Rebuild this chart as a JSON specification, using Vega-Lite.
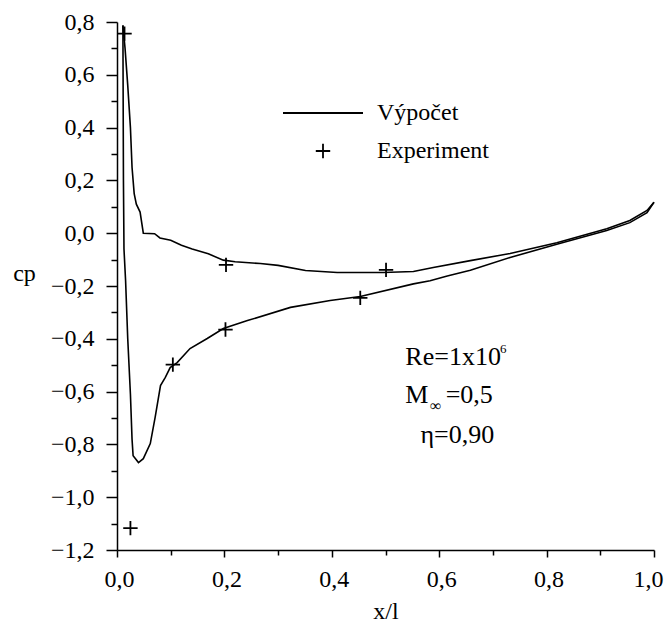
{
  "$schema": "https://vega.github.io/schema/vega-lite/v6.json",
  "width": 537,
  "height": 528,
  "autosize": {"type": "none"},
  "padding": {"left": 117, "top": 22, "right": 13, "bottom": 81},
  "background": "white",
  "config": {
    "view": {"stroke": null},
    "font": "Liberation Serif",
    "axis": {
      "grid": false,
      "domainColor": "black",
      "tickColor": "black",
      "labelColor": "black",
      "titleColor": "black",
      "labelFont": "Liberation Serif",
      "titleFont": "Liberation Serif",
      "labelFontSize": 24,
      "titleFontSize": 24,
      "titleFontWeight": "normal",
      "domainWidth": 1.5,
      "tickWidth": 1.5
    }
  },
  "datasets": {
    "calc": [
      {"surface": "upper", "x": 0.011, "cp": 0.787},
      {"surface": "upper", "x": 0.015, "cp": 0.70},
      {"surface": "upper", "x": 0.020, "cp": 0.56},
      {"surface": "upper", "x": 0.025, "cp": 0.40},
      {"surface": "upper", "x": 0.028, "cp": 0.25},
      {"surface": "upper", "x": 0.032, "cp": 0.15},
      {"surface": "upper", "x": 0.036, "cp": 0.11},
      {"surface": "upper", "x": 0.043, "cp": 0.08},
      {"surface": "upper", "x": 0.049, "cp": 0.0},
      {"surface": "upper", "x": 0.070, "cp": -0.002},
      {"surface": "upper", "x": 0.080, "cp": -0.018},
      {"surface": "upper", "x": 0.100, "cp": -0.027},
      {"surface": "upper", "x": 0.120, "cp": -0.046},
      {"surface": "upper", "x": 0.140, "cp": -0.060},
      {"surface": "upper", "x": 0.170, "cp": -0.078},
      {"surface": "upper", "x": 0.198, "cp": -0.102},
      {"surface": "upper", "x": 0.220, "cp": -0.108},
      {"surface": "upper", "x": 0.267, "cp": -0.115},
      {"surface": "upper", "x": 0.300, "cp": -0.122},
      {"surface": "upper", "x": 0.351, "cp": -0.141},
      {"surface": "upper", "x": 0.410, "cp": -0.149},
      {"surface": "upper", "x": 0.496, "cp": -0.149},
      {"surface": "upper", "x": 0.552, "cp": -0.145},
      {"surface": "upper", "x": 0.589, "cp": -0.130},
      {"surface": "upper", "x": 0.658, "cp": -0.104},
      {"surface": "upper", "x": 0.732, "cp": -0.077},
      {"surface": "upper", "x": 0.819, "cp": -0.036},
      {"surface": "upper", "x": 0.912, "cp": 0.017},
      {"surface": "upper", "x": 0.955, "cp": 0.048},
      {"surface": "upper", "x": 0.987, "cp": 0.086},
      {"surface": "upper", "x": 1.0, "cp": 0.117},
      {"surface": "lower", "x": 0.011, "cp": 0.787},
      {"surface": "lower", "x": 0.012, "cp": 0.2},
      {"surface": "lower", "x": 0.013, "cp": -0.06},
      {"surface": "lower", "x": 0.016, "cp": -0.18},
      {"surface": "lower", "x": 0.020, "cp": -0.40},
      {"surface": "lower", "x": 0.025, "cp": -0.61},
      {"surface": "lower", "x": 0.028, "cp": -0.78},
      {"surface": "lower", "x": 0.030, "cp": -0.843},
      {"surface": "lower", "x": 0.040, "cp": -0.869},
      {"surface": "lower", "x": 0.049, "cp": -0.854},
      {"surface": "lower", "x": 0.062, "cp": -0.797},
      {"surface": "lower", "x": 0.071, "cp": -0.698},
      {"surface": "lower", "x": 0.081, "cp": -0.577},
      {"surface": "lower", "x": 0.090, "cp": -0.546},
      {"surface": "lower", "x": 0.099, "cp": -0.509},
      {"surface": "lower", "x": 0.112, "cp": -0.490},
      {"surface": "lower", "x": 0.136, "cp": -0.437},
      {"surface": "lower", "x": 0.168, "cp": -0.399},
      {"surface": "lower", "x": 0.198, "cp": -0.361},
      {"surface": "lower", "x": 0.243, "cp": -0.331},
      {"surface": "lower", "x": 0.323, "cp": -0.281},
      {"surface": "lower", "x": 0.397, "cp": -0.255},
      {"surface": "lower", "x": 0.453, "cp": -0.240},
      {"surface": "lower", "x": 0.552, "cp": -0.192},
      {"surface": "lower", "x": 0.583, "cp": -0.180},
      {"surface": "lower", "x": 0.615, "cp": -0.162},
      {"surface": "lower", "x": 0.658, "cp": -0.140},
      {"surface": "lower", "x": 0.732, "cp": -0.092},
      {"surface": "lower", "x": 0.819, "cp": -0.042},
      {"surface": "lower", "x": 0.912, "cp": 0.010},
      {"surface": "lower", "x": 0.955, "cp": 0.040},
      {"surface": "lower", "x": 0.987, "cp": 0.078},
      {"surface": "lower", "x": 1.0, "cp": 0.117}
    ],
    "exp": [
      {"series": "Experiment", "x": 0.014, "cp": 0.756},
      {"series": "Experiment", "x": 0.025, "cp": -1.117},
      {"series": "Experiment", "x": 0.104, "cp": -0.498},
      {"series": "Experiment", "x": 0.202, "cp": -0.365},
      {"series": "Experiment", "x": 0.203, "cp": -0.120},
      {"series": "Experiment", "x": 0.453, "cp": -0.245},
      {"series": "Experiment", "x": 0.501, "cp": -0.139}
    ],
    "one": [{}]
  },
  "resolve": {"axis": {"y": "independent"}},
  "layer": [
    {
      "data": {"name": "calc"},
      "mark": {"type": "line", "color": "black", "strokeWidth": 1.6},
      "encoding": {
        "x": {
          "field": "x", "type": "quantitative",
          "scale": {"domain": [0, 1], "nice": false, "zero": false},
          "axis": {
            "orient": "bottom",
            "values": [0, 0.1, 0.2, 0.3, 0.4, 0.5, 0.6, 0.7, 0.8, 0.9, 1.0],
            "labelExpr": "abs(round(datum.value*10)) % 2 == 0 ? replace(format(datum.value, '.1f'), '.', ',') : ''",
            "tickSize": {"condition": {"test": "abs(round(datum.value*10)) % 2 == 0", "value": 7}, "value": 5},
            "labelOffset": {"condition": {"test": "datum.value > 0.95", "value": -6}, "value": 2},
            "labelPadding": 10,
            "labelFlush": false, "labelOverlap": false,
            "title": "x/l", "titleY": 68, "titleBaseline": "alphabetic"
          }
        },
        "y": {
          "field": "cp", "type": "quantitative",
          "scale": {"domain": [-1.2, 0.8], "nice": false, "zero": false},
          "axis": {
            "orient": "left",
            "values": [-1.2, -1.0, -0.8, -0.6, -0.4, -0.2, 0, 0.2, 0.4, 0.6, 0.8],
            "labelExpr": "replace(format(datum.value, '.1f'), '.', ',')",
            "tickSize": 11,
            "labelPadding": 12,
            "labelFlush": false, "labelOverlap": false,
            "title": "cp", "titleAngle": 0, "titleX": -93, "titleY": 258,
            "titleAlign": "center", "titleBaseline": "alphabetic"
          }
        },
        "detail": {"field": "surface"}
      }
    },
    {
      "data": {"name": "exp"},
      "mark": {"type": "point", "filled": false, "color": "black", "strokeWidth": 1.8, "size": 400, "opacity": 1},
      "encoding": {
        "x": {"field": "x", "type": "quantitative"},
        "y": {
          "field": "cp", "type": "quantitative",
          "axis": {"orient": "left", "values": [-1.1, -0.9, -0.7, -0.5, -0.3, -0.1, 0.1, 0.3, 0.5, 0.7], "tickSize": 6, "labels": false, "domain": false, "title": null}
        },
        "shape": {
          "field": "series", "type": "nominal",
          "scale": {"domain": ["Výpočet", "Experiment"], "range": ["M-4,0H4", "M-0.72,0H0.72M0,-0.72V0.72"]},
          "legend": {
            "orient": "none", "legendX": 194, "legendY": 79, "title": null,
            "labelFont": "Liberation Serif", "labelFontSize": 24, "labelColor": "black",
            "labelOffset": 42, "rowPadding": 14, "padding": 0,
            "symbolSize": 400, "symbolStrokeColor": "black", "symbolStrokeWidth": 1.8,
            "symbolFillColor": "transparent"
          }
        }
      }
    },
    {
      "data": {"name": "one"},
      "mark": {"type": "text", "text": "Re=1x10", "font": "Liberation Serif", "fontSize": 26, "align": "left", "baseline": "alphabetic", "color": "black"},
      "encoding": {
        "x": {"datum": 0.537, "type": "quantitative"},
        "y": {"datum": -0.501, "type": "quantitative", "axis": null}
      }
    },
    {
      "data": {"name": "one"},
      "mark": {"type": "text", "text": "6", "font": "Liberation Serif", "fontSize": 13, "align": "left", "baseline": "alphabetic", "color": "black"},
      "encoding": {
        "x": {"datum": 0.713, "type": "quantitative"},
        "y": {"datum": -0.454, "type": "quantitative", "axis": null}
      }
    },
    {
      "data": {"name": "one"},
      "mark": {"type": "text", "text": "M", "font": "Liberation Serif", "fontSize": 26, "align": "left", "baseline": "alphabetic", "color": "black"},
      "encoding": {
        "x": {"datum": 0.537, "type": "quantitative"},
        "y": {"datum": -0.642, "type": "quantitative", "axis": null}
      }
    },
    {
      "data": {"name": "one"},
      "mark": {"type": "text", "text": "∞", "font": "Liberation Serif", "fontSize": 16, "align": "left", "baseline": "alphabetic", "color": "black"},
      "encoding": {
        "x": {"datum": 0.583, "type": "quantitative"},
        "y": {"datum": -0.672, "type": "quantitative", "axis": null}
      }
    },
    {
      "data": {"name": "one"},
      "mark": {"type": "text", "text": "=0,5", "font": "Liberation Serif", "fontSize": 26, "align": "left", "baseline": "alphabetic", "color": "black"},
      "encoding": {
        "x": {"datum": 0.612, "type": "quantitative"},
        "y": {"datum": -0.642, "type": "quantitative", "axis": null}
      }
    },
    {
      "data": {"name": "one"},
      "mark": {"type": "text", "text": "η=0,90", "font": "Liberation Serif", "fontSize": 26, "align": "left", "baseline": "alphabetic", "color": "black"},
      "encoding": {
        "x": {"datum": 0.565, "type": "quantitative"},
        "y": {"datum": -0.793, "type": "quantitative", "axis": null}
      }
    }
  ]
}
